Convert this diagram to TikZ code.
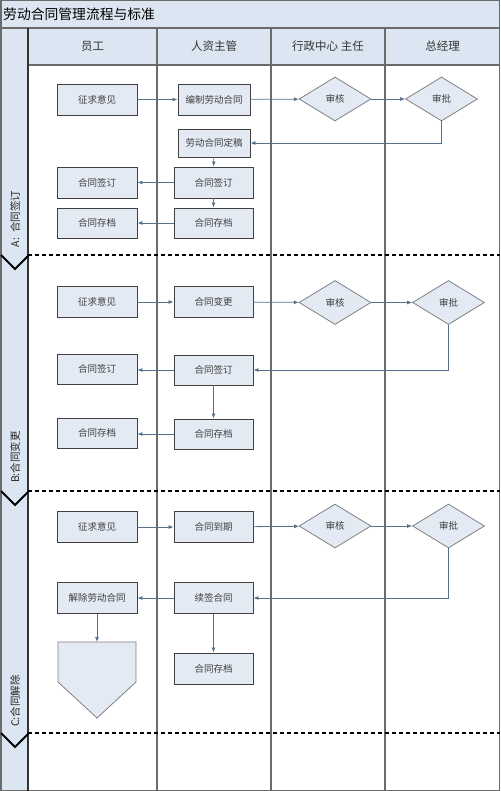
\documentclass[tikz,border=0pt]{standalone}
\usepackage{fontspec}
\setmainfont{Noto Sans CJK SC}
\usetikzlibrary{shapes.geometric,arrows.meta}

\newlength{\du}
\setlength{\du}{1pt}

\definecolor{lanefill}{rgb}{0.863,0.902,0.949}
\definecolor{boxfill}{rgb}{0.890,0.918,0.957}
\definecolor{boxline}{rgb}{0.250,0.250,0.250}
\definecolor{flowline}{rgb}{0.337,0.443,0.553}
\definecolor{laneline}{rgb}{0.420,0.420,0.420}

\tikzset{
  stepbox/.style={draw=boxline, fill=boxfill, line width=0.9\du,
    minimum width=80\du, minimum height=31\du, inner sep=0pt,
    font=\fontsize{9.5}{11}\selectfont, text=black!75},
  checkbox/.style={diamond, draw=black!50, fill=boxfill, line width=0.8\du,
    minimum width=72\du, minimum height=44\du, inner sep=0pt,
    font=\fontsize{9.5}{11}\selectfont, text=black!75},
  flow/.style={draw=flowline, line width=0.8\du,
    -{Latex[length=5pt,width=4pt]}},
  lanesep/.style={draw=laneline, line width=1.5\du},
  phaseline/.style={draw=black, line width=2\du, dash pattern=on 4pt off 3pt},
  phasemark/.style={draw=black, line width=2\du},
  lanehead/.style={font=\fontsize{11.5}{13}\selectfont, text=black!80},
  phaselabel/.style={rotate=90, font=\fontsize{10.5}{12}\selectfont, text=black!85}
}

\begin{document}
\begin{tikzpicture}
\pgftransformxscale{1.000000}
\pgftransformyscale{-1.000000}
\useasboundingbox (0\du,0\du) rectangle (500\du,791\du);
% background
\fill[lanefill] (0\du,0\du) rectangle (500\du,65\du);
\fill[lanefill] (0\du,65\du) rectangle (28\du,791\du);
% frame and lanes
\draw[lanesep] (0.75\du,0.75\du) rectangle (499.25\du,790.25\du);
\draw[lanesep] (0\du,28\du) -- (500\du,28\du);
\draw[lanesep] (28\du,65\du) -- (500\du,65\du);
\draw[draw=black!80, line width=1.5\du] (28\du,28\du) -- (28\du,791\du);
\draw[lanesep] (157\du,28\du) -- (157\du,791\du);
\draw[lanesep] (271\du,28\du) -- (271\du,791\du);
\draw[lanesep] (385\du,28\du) -- (385\du,791\du);
% phase separators
\draw[phaseline] (28\du,255\du) -- (500\du,255\du);
\draw[phaseline] (28\du,491\du) -- (500\du,491\du);
\draw[phaseline] (28\du,733\du) -- (500\du,733\du);
\draw[phasemark] (1\du,255\du) -- (15\du,269\du) -- (29\du,255\du);
\draw[phasemark] (1\du,491\du) -- (15\du,505\du) -- (29\du,491\du);
\draw[phasemark] (1\du,733\du) -- (15\du,747\du) -- (29\du,733\du);

% titles
\node[anchor=west, inner sep=1\du, font=\fontsize{13.8}{16}\selectfont] (title) at (2\du,14\du){劳动合同管理流程与标准};
\node[lanehead] (hd-emp) at (92.5\du,46.5\du){员工};
\node[lanehead] (hd-hr) at (214\du,46.5\du){人资主管};
\node[lanehead] (hd-admin) at (328\du,46.5\du){行政中心 主任};
\node[lanehead] (hd-gm) at (442.5\du,46.5\du){总经理};
\node[phaselabel] (ph-a) at (15\du,219\du){A:\ \ 合同签订};
\node[phaselabel] (ph-b) at (15\du,457\du){B:合同变更};
\node[phaselabel] (ph-c) at (15\du,701\du){C:合同解除};

% A: sign
\node[stepbox] (a-ask) at (97\du,99.5\du){征求意见};
\node[stepbox, minimum width=72\du] (a-draft) at (214\du,99.5\du){编制劳动合同};
\node[checkbox] (a-review) at (335\du,99\du){审核};
\node[checkbox] (a-approve) at (441.5\du,99\du){审批};
\node[stepbox, minimum width=72\du, minimum height=28\du] (a-final) at (214\du,143\du){劳动合同定稿};
\node[stepbox, minimum width=79\du] (a-hrsign) at (213.5\du,182.5\du){合同签订};
\node[stepbox] (a-empsign) at (97\du,182.5\du){合同签订};
\node[stepbox, minimum width=79\du, minimum height=30\du] (a-hrfile) at (213.5\du,223\du){合同存档};
\node[stepbox, minimum height=30\du] (a-empfile) at (97\du,223\du){合同存档};
\draw[flow] (a-ask) -- (a-draft);
\draw[flow] (a-draft) -- (a-review);
\draw[flow] (a-review) -- (a-approve);
\draw[flow] (a-approve.south) |- (a-final.east);
\draw[flow] (a-final) -- (a-hrsign);
\draw[flow] (a-hrsign) -- (a-hrfile);
\draw[flow] (a-hrsign) -- (a-empsign);
\draw[flow] (a-hrfile) -- (a-empfile);

% B: change
\node[stepbox] (b-ask) at (97\du,302\du){征求意见};
\node[stepbox, minimum width=79\du] (b-change) at (213.5\du,302\du){合同变更};
\node[checkbox] (b-review) at (335\du,302.5\du){审核};
\node[checkbox] (b-approve) at (448.5\du,302.5\du){审批};
\node[stepbox, minimum width=79\du, minimum height=30\du] (b-hrsign) at (213.5\du,370\du){合同签订};
\node[stepbox, minimum height=30\du] (b-empsign) at (97\du,369\du){合同签订};
\node[stepbox, minimum width=79\du, minimum height=30\du] (b-hrfile) at (213.5\du,434\du){合同存档};
\node[stepbox, minimum height=30\du] (b-empfile) at (97\du,433\du){合同存档};
\draw[flow] (b-ask) -- (b-change);
\draw[flow] (b-change) -- (b-review);
\draw[flow] (b-review) -- (b-approve);
\draw[flow] (b-approve.south) |- (b-hrsign.east);
\draw[flow] (b-hrsign) -- (b-hrfile);
\draw[flow] (b-hrsign.west) -- (b-empsign.east |- b-hrsign.west);
\draw[flow] (b-hrfile.west) -- (b-empfile.east |- b-hrfile.west);

% C: end
\node[stepbox] (c-ask) at (97\du,527\du){征求意见};
\node[stepbox, minimum width=79\du] (c-due) at (213.5\du,527\du){合同到期};
\node[checkbox] (c-review) at (335\du,526\du){审核};
\node[checkbox] (c-approve) at (448.5\du,526\du){审批};
\node[stepbox, minimum width=79\du] (c-renew) at (213.5\du,598\du){续签合同};
\node[stepbox] (c-quit) at (97\du,598\du){解除劳动合同};
\node[stepbox, minimum width=79\du] (c-hrfile) at (213.5\du,668.5\du){合同存档};
\coordinate (c-off) at (97\du,642\du);
\draw[draw=black!50, fill=boxfill, line width=0.8\du] (58\du,642\du) -- (136\du,642\du) -- (136\du,682\du) -- (97\du,718\du) -- (58\du,682\du) -- cycle;
\draw[flow] (c-ask) -- (c-due);
\draw[flow] (c-due) -- (c-review);
\draw[flow] (c-review) -- (c-approve);
\draw[flow] (c-approve.south) |- (c-renew.east);
\draw[flow] (c-renew) -- (c-quit);
\draw[flow] (c-quit) -- (c-off);
\draw[flow] (c-renew) -- (c-hrfile);
\end{tikzpicture}
\end{document}
